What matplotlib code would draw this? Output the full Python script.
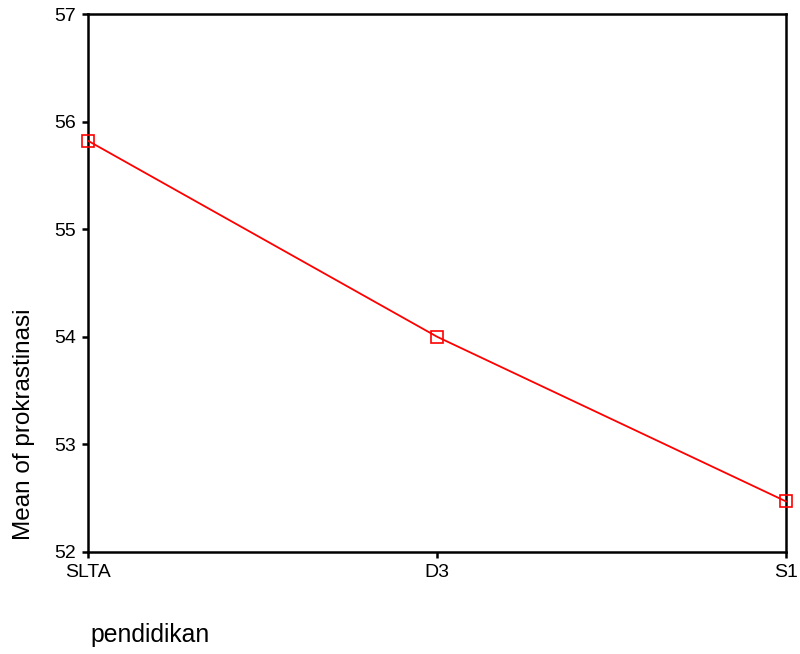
import matplotlib
matplotlib.use("Agg")
import matplotlib.pyplot as plt

categories = ["SLTA", "D3", "S1"]
means = [55.82, 54.00, 52.47]
yticks = [52, 53, 54, 55, 56, 57]

plt.rcParams['font.family'] = ['Liberation Sans', 'DejaVu Sans']

fig = plt.figure(figsize=(8, 6.54), dpi=100)
ax = fig.add_axes([0.1105, 0.156, 0.872, 0.8225])
x = list(range(len(categories)))
ax.plot(x, means, color='#ff0000', linewidth=1.3, marker='s', markersize=8.5,
        markerfacecolor='none', markeredgecolor='#ff0000', markeredgewidth=1.2,
        clip_on=False, zorder=5)
ax.set_xlim(0, len(categories) - 1)
ax.set_ylim(52, 57)
ax.set_xticks(x)
ax.set_xticklabels(categories)
ax.set_yticks(yticks)
ax.set_yticklabels([str(v) for v in yticks])
for s in ax.spines.values():
    s.set_linewidth(1.8)
    s.set_color('black')
ax.tick_params(axis='both', direction='out', length=4, width=1.8, labelsize=14, pad=5)
fig.text(0.030, 0.352, "Mean of prokrastinasi", rotation=90, ha='center', va='center', fontsize=17.5)
fig.text(0.113, 0.018, "pendidikan", ha='left', va='baseline', fontsize=17.8)
fig.savefig("out.png", dpi=100)
